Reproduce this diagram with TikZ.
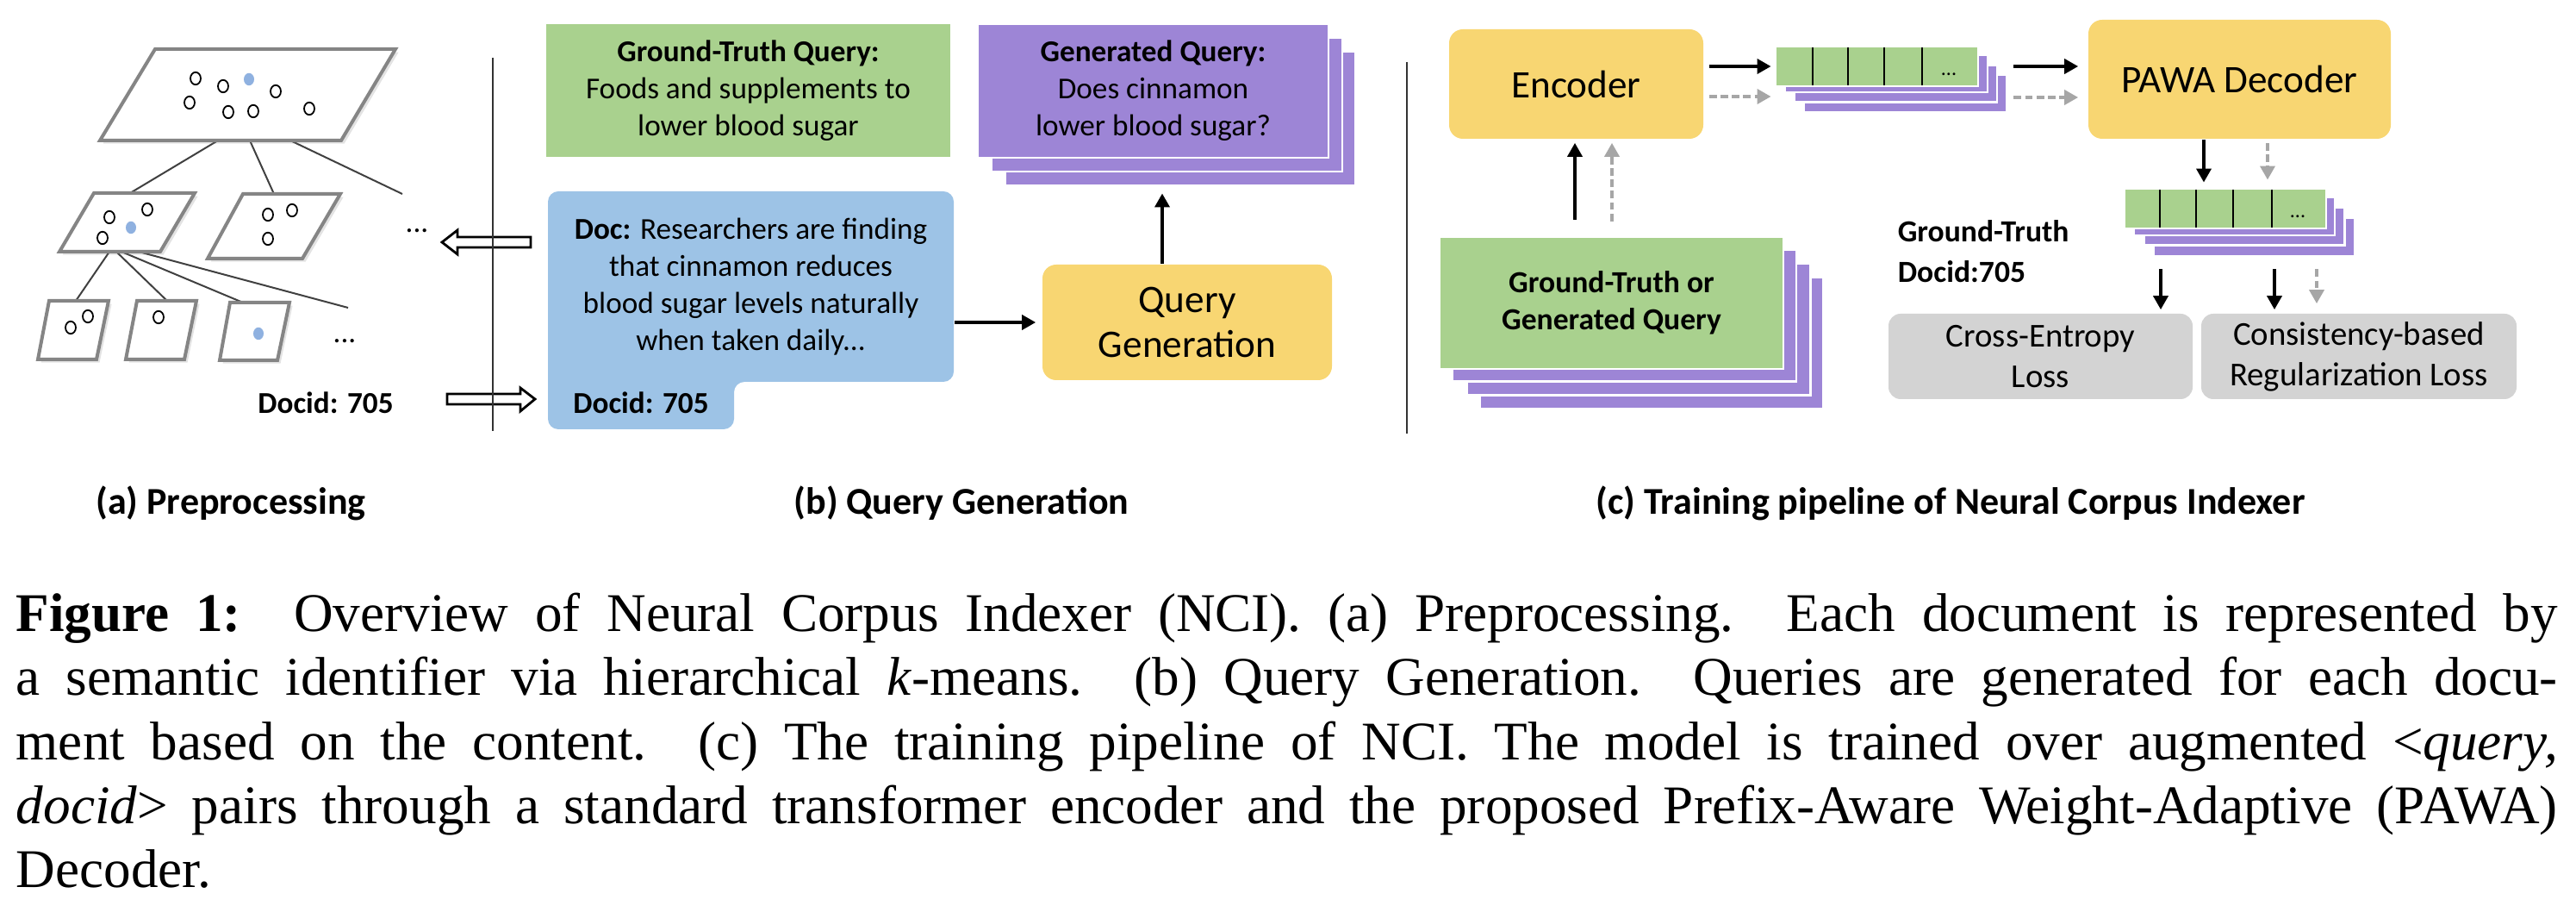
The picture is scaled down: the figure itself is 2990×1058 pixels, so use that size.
\documentclass[tikz,border=0pt]{standalone}
\usepackage{fontspec}
\setmainfont{Liberation Serif}
\newfontfamily\cf{Carlito}
\usetikzlibrary{arrows.meta,shadows}
\newcommand\setfs[2]{\fontsize{#1}{#2}\selectfont}
\definecolor{qgreen}{HTML}{A9D18E}
\definecolor{qblue}{HTML}{9DC3E6}
\definecolor{qpurple}{HTML}{9D85D6}
\definecolor{qyellow}{HTML}{F8D672}
\definecolor{qgray}{HTML}{D3D3D3}
\definecolor{arrgray}{HTML}{A6A6A6}
\definecolor{paragray}{HTML}{858585}
\definecolor{dotblue}{HTML}{8FB1E0}
\begin{document}
\begin{tikzpicture}[x=0.25pt,y=-0.25pt,
  txt/.style={font=\cf\setfs{8.8}{10.75}, align=center, inner sep=0pt, text=black},
  gbox/.style={txt, fill=qgreen, draw=white, line width=0.7pt},
  pbox/.style={fill=qpurple, draw=white, line width=0.7pt, inner sep=0pt},
  ybox/.style={txt, fill=qyellow, rounded corners=4pt, font=\cf\setfs{11.3}{13}},
  lbox/.style={txt, fill=qgray, rounded corners=3.5pt, font=\cf\setfs{9.7}{11.75}},
  arr/.style={-{Triangle[length=4pt,width=4.2pt]}, line width=1.1pt, draw=black},
  darr/.style={-{Triangle[length=4pt,width=4.2pt]}, line width=1.1pt, draw=arrgray, dash pattern=on 2.2pt off 1.1pt},
  para/.style={draw=paragray, line width=1pt, fill=white, line join=miter,
     drop shadow={opacity=0.22, shadow xshift=0.9pt, shadow yshift=-0.9pt}},
  tline/.style={draw=black!75, line width=0.5pt},
  circ/.style={draw=black, line width=0.45pt},
  bdot/.style={fill=dotblue},
  sep/.style={draw=black!80, line width=0.45pt},
  hollow/.style={draw=black, line width=0.7pt, fill=white, line join=miter},
  cell/.style={draw=black, line width=0.4pt},
  subcap/.style={font=\cf\bfseries\setfs{11}{13}, inner sep=0pt}
]
\useasboundingbox (0,0) rectangle (2990,1058);

% ---------------- (a) Preprocessing ----------------
\coordinate (t1) at (253,163); \coordinate (t2) at (290,163); \coordinate (t3) at (337,163);
\coordinate (ml) at (151,224); \coordinate (mr) at (318,225); \coordinate (mf) at (467,225);
\coordinate (m1) at (127,292); \coordinate (m2) at (135,292); \coordinate (m3) at (141,292); \coordinate (m4) at (161,292);
\coordinate (c1) at (88,349); \coordinate (c2) at (194,349); \coordinate (c3) at (282,351); \coordinate (cf) at (404,357);
\draw[tline] (t1) -- (ml);
\draw[tline] (t2) -- (mr);
\draw[tline] (t3) -- (mf);
\draw[tline] (m1) -- (c1);
\draw[tline] (m2) -- (c2);
\draw[tline] (m3) -- (c3);
\draw[tline] (m4) -- (cf);

\draw[para] (180,57) -- (459,57) -- (396,163) -- (116,163) -- cycle;
\draw[para] (109,224) -- (226,224) -- (186,292) -- (69,292) -- cycle;
\draw[para] (282,225) -- (395,225) -- (351,300) -- (241,300) -- cycle;
\draw[para] (57,349) -- (126,349) -- (112,417) -- (44,417) -- cycle;
\draw[para] (159,349) -- (228,349) -- (214,417) -- (146,417) -- cycle;
\draw[para] (267,351) -- (336,351) -- (322,418) -- (255,418) -- cycle;

\foreach \p in {(227,91),(259,100),(320,106),(220,119),(265,130),(294,129),(359,126),
                (127,252),(171,243),(119,276),
                (311,249),(339,244),(311,277),
                (82,380),(102,367),(184,368)}
  \draw[circ] \p circle[x radius=1.5pt, y radius=1.8pt];
\foreach \p in {(289,92),(152,264),(300,387)}
  \fill[bdot] \p circle[x radius=1.5pt, y radius=1.8pt];

\node[txt] (dotsa1) at (484,268) {...};
\node[txt] (dotsa2) at (400,396) {...};
\node[txt, font=\cf\bfseries\setfs{8.8}{10.75}] (docida) at (378,467) {Docid: 705};

\draw[hollow] (616,275) -- (531,275) -- (531,267) -- (513,281) -- (531,295) -- (531,287) -- (616,287) -- cycle;
\draw[hollow] (519,457) -- (604,457) -- (604,450) -- (621,463) -- (604,477) -- (604,469) -- (519,469) -- cycle;

\draw[sep] (572,67) -- (572,500);
\draw[sep] (1633,72) -- (1633,503);

% ---------------- (b) Query Generation ----------------
\node[gbox, draw=none, minimum width=117.25pt, minimum height=38.5pt] (gt) at (868.5,105)
  {\textbf{Ground-Truth Query:}\\Foods and supplements to\\lower blood sugar};

\fill[qblue, rounded corners=3pt] (636,222) -- (1107,222) -- (1107,443) -- (852,443) -- (852,498) -- (636,498) -- cycle;
\node[txt, minimum width=117.75pt, minimum height=55.25pt] (doc) at (871.5,332.5)
  {\textbf{Doc:} Researchers are finding\\that cinnamon reduces\\blood sugar levels naturally\\when taken daily...};
\node[txt, font=\cf\bfseries\setfs{8.8}{10.75}] (docidb) at (744,467) {Docid: 705};

\node[pbox, minimum width=101.75pt, minimum height=38.75pt] (gq3) at (1370,137.5) {};
\node[pbox, minimum width=101.75pt, minimum height=38.75pt] (gq2) at (1354.5,121.5) {};
\node[pbox, txt, draw=white, minimum width=101.75pt, minimum height=38.75pt] (gq) at (1338.5,105.5)
  {\textbf{Generated Query:}\\Does cinnamon\\lower blood sugar?};

\node[ybox, minimum width=84pt, minimum height=33.5pt] (qg) at (1378,374) {Query\\Generation};

\draw[arr, shorten >=1.75pt] (doc.east |- qg.west) -- (qg.west);
\coordinate (ua) at (1349,0);
\draw[arr, shorten >=2pt] (ua |- qg.north) -- (ua |- gq3.south);

% ---------------- (c) Training pipeline ----------------
\node[ybox, minimum width=73.75pt, minimum height=31.75pt] (enc) at (1829.5,97.5) {Encoder};
\node[ybox, minimum width=87.75pt, minimum height=34.5pt] (pawa) at (2599.5,92) {PAWA Decoder};

% top embedding stack
\node[pbox, minimum width=58.75pt, minimum height=10.75pt] (e4) at (2211.5,108.5) {};
\node[pbox, minimum width=58.75pt, minimum height=10.75pt] (e3) at (2200.5,97) {};
\node[pbox, minimum width=58.75pt, minimum height=10.75pt] (e2) at (2189.5,85.5) {};
\node[gbox, minimum width=58.75pt, minimum height=11.5pt] (e1) at (2178.5,77) {};
\foreach \x in {2104,2145,2187,2231} \draw[cell] (\x,55) -- (\x,99);
\node[txt, font=\cf\setfs{6}{7}] (e1dots) at (2262,86) {...};

% bottom embedding stack
\node[pbox, minimum width=58.25pt, minimum height=11pt] (b4) at (2616.5,275) {};
\node[pbox, minimum width=58.25pt, minimum height=11pt] (b3) at (2605,262.5) {};
\node[pbox, minimum width=58.25pt, minimum height=11pt] (b2) at (2593.5,251) {};
\node[gbox, minimum width=58.5pt, minimum height=11.5pt] (b1) at (2583,242) {};
\foreach \x in {2507,2549,2592,2637} \draw[cell] (\x,220) -- (\x,264);
\node[txt, font=\cf\setfs{6}{7}] (b1dots) at (2667,251) {...};

% query stack
\node[pbox, minimum width=99.75pt, minimum height=38.25pt] (q4) at (1917,398) {};
\node[pbox, minimum width=99.75pt, minimum height=38.25pt] (q3) at (1902,382) {};
\node[pbox, minimum width=99.75pt, minimum height=38.25pt] (q2) at (1885.5,366) {};
\node[gbox, font=\cf\bfseries\setfs{8.9}{10.75}, minimum width=99.75pt, minimum height=38.25pt] (q1) at (1870.5,351.5)
  {Ground-Truth or\\Generated Query};

% losses
\node[lbox, minimum width=88.25pt, minimum height=24.75pt] (ce) at (2368.5,413.5) {Cross-Entropy\\Loss};
\node[lbox, minimum width=91.5pt, minimum height=24.75pt] (cr) at (2738,413.5) {Consistency-based\\Regularization Loss};

\node[txt, align=left, anchor=west, font=\cf\bfseries\setfs{8.9}{11.75}] (gtd) at (2202,291.5) {Ground-Truth\\Docid:705};

% arrows (c)
\coordinate (dy1) at (0,112);
\coordinate (dy2) at (0,113);
\draw[arr, shorten <=1.5pt, shorten >=1pt] (enc.east |- e1.center) -- (e1.west);
\draw[darr, shorten <=1.5pt, shorten >=1pt] (enc.east |- dy1) -- (e1.west |- dy1);
\draw[arr, shorten <=1.75pt, shorten >=2.75pt] (e4.east |- e1.center) -- (pawa.west |- e1.center);
\draw[darr, shorten <=1.75pt, shorten >=2.75pt] (e4.east |- dy2) -- (pawa.west |- dy2);

\coordinate (px1) at (2558,0); \coordinate (px2) at (2632,0);
\draw[arr, shorten >=1.5pt] (px1 |- pawa.south) -- (px1 |- b1.north);
\draw[darr, shorten <=1pt, shorten >=2.25pt] (px2 |- pawa.south) -- (px2 |- b1.north);

\coordinate (lx1) at (2508,0); \coordinate (lx2) at (2640,0); \coordinate (lx3) at (2689,0);
\draw[arr, shorten <=3.5pt, shorten >=1pt] (lx1 |- b4.south) -- (lx1 |- ce.north);
\draw[arr, shorten <=3.5pt, shorten >=1pt] (lx2 |- b4.south) -- (lx2 |- cr.north);
\draw[darr, shorten <=3.5pt, shorten >=2.75pt] (lx3 |- b4.south) -- (lx3 |- cr.north);

\coordinate (ux1) at (1828,0); \coordinate (ux2) at (1871,0);
\draw[arr, shorten <=4.75pt, shorten >=1pt] (ux1 |- q1.north) -- (ux1 |- enc.south);
\draw[darr, shorten <=4.25pt, shorten >=1pt] (ux2 |- q1.north) -- (ux2 |- enc.south);

% ---------------- sub-captions ----------------
\node[subcap, anchor=base] (capa) at (268,597) {(a) Preprocessing};
\node[subcap, anchor=base] (capb) at (1116,597) {(b) Query Generation};
\node[subcap, anchor=base] (capc) at (2264,597) {(c) Training pipeline of Neural Corpus Indexer};

% ---------------- caption ----------------
\node[anchor=north west, inner sep=0pt, text width=737.5pt, align=justify, font=\setfs{15.8}{18.6}] (cap) at (18,687)
{\textbf{Figure 1:}\ \ Overview of Neural Corpus Indexer (NCI). (a) Preprocessing.\ \ Each document is represented by\linebreak
a semantic identifier via hierarchical \textit{k}-means.\ \ (b) Query Generation.\ \ Queries are generated for each docu-\linebreak
ment based on the content.\ \ (c) The training pipeline of NCI. The model is trained over augmented <\textit{query,}\linebreak
\textit{docid}> pairs through a standard transformer encoder and the proposed Prefix-Aware Weight-Adaptive (PAWA)\linebreak
Decoder.};
\end{tikzpicture}
\end{document}
